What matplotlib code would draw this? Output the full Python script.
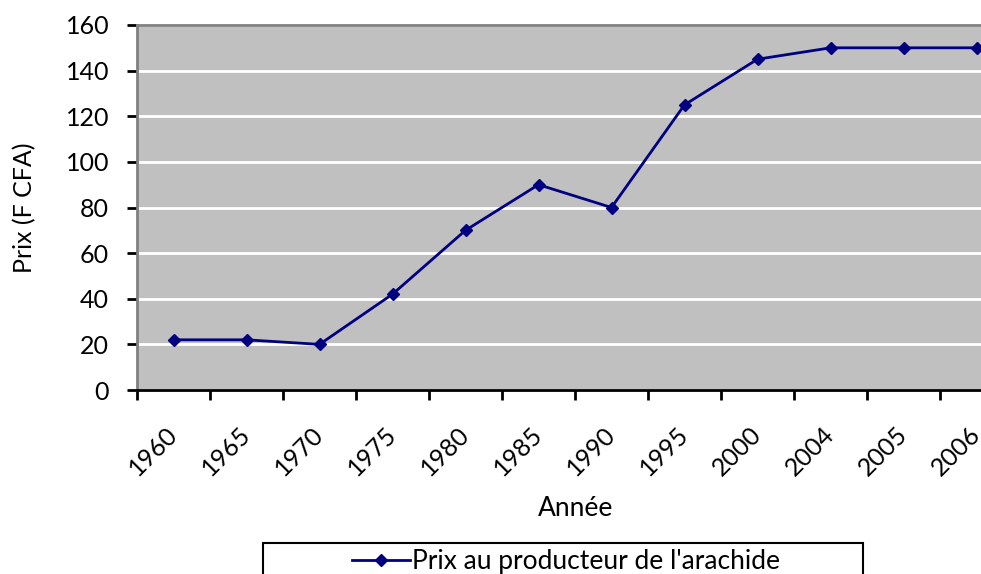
import matplotlib
matplotlib.use("Agg")
import matplotlib.pyplot as plt
from matplotlib.patches import Rectangle
import numpy as np

years = ["1960", "1965", "1970", "1975", "1980", "1985", "1990", "1995", "2000", "2004", "2005", "2006"]
prices = [22, 22, 20, 42, 70, 90, 80, 125, 145, 150, 150, 150]
series_name = "Prix au producteur de l'arachide"
y_ticks = [0, 20, 40, 60, 80, 100, 120, 140, 160]

plt.rcParams['font.family'] = ['Lato', 'DejaVu Sans']

W, H = 981, 574
fig = plt.figure(figsize=(W / 100, H / 100), dpi=100)
left, right, top, bottom = 137, 137 + 73 * 12, 25, 390
ax = fig.add_axes([left / W, 1 - bottom / H, (right - left) / W, (bottom - top) / H])
ax.set_facecolor('#C0C0C0')

x = np.arange(len(years))
ax.plot(x, prices, color='#000080', lw=2, marker='D', ms=6, label=series_name, zorder=3, clip_on=False)

ax.set_xlim(-0.5, len(years) - 0.5)
ax.set_ylim(0, 160)
ax.set_yticks(y_ticks)
ax.yaxis.grid(True, color='white', lw=2)
ax.set_axisbelow(True)

ax.set_xticks(x)
ax.set_xticklabels(years, rotation=45, ha='right', va='center', rotation_mode='anchor', fontsize=18)
ax.set_xticks(np.arange(-0.5, len(years), 1), minor=True)
ax.tick_params(axis='x', which='major', length=0, pad=29)
ax.tick_params(axis='x', which='minor', length=7, width=2, color='black', direction='out')
ax.tick_params(axis='y', length=7, width=2, direction='out', labelsize=18, pad=13)

for s in ['top', 'right', 'left']:
    ax.spines[s].set_color('#808080')
    ax.spines[s].set_linewidth(2)
ax.spines['bottom'].set_color('black')
ax.spines['bottom'].set_linewidth(2)

fig.text(25 / W, 1 - 208 / H, 'Prix (F CFA)', rotation=90, ha='center', va='center', fontsize=18)
fig.text(576 / W, 1 - 508 / H, 'Année', ha='center', va='center', fontsize=19)

# legend box (cropped at bottom)
fig.patches.append(Rectangle((263 / W, 1 - 590 / H), 600 / W, 47 / H, transform=fig.transFigure,
                             facecolor='white', edgecolor='black', lw=1.5))
fig.legend(handles=ax.get_lines(), labels=[series_name], loc='center', bbox_to_anchor=(566 / W, 1 - 562 / H),
           frameon=False, fontsize=19, handlelength=2.2, handletextpad=0.1)

fig.savefig('out.png', dpi=100)
